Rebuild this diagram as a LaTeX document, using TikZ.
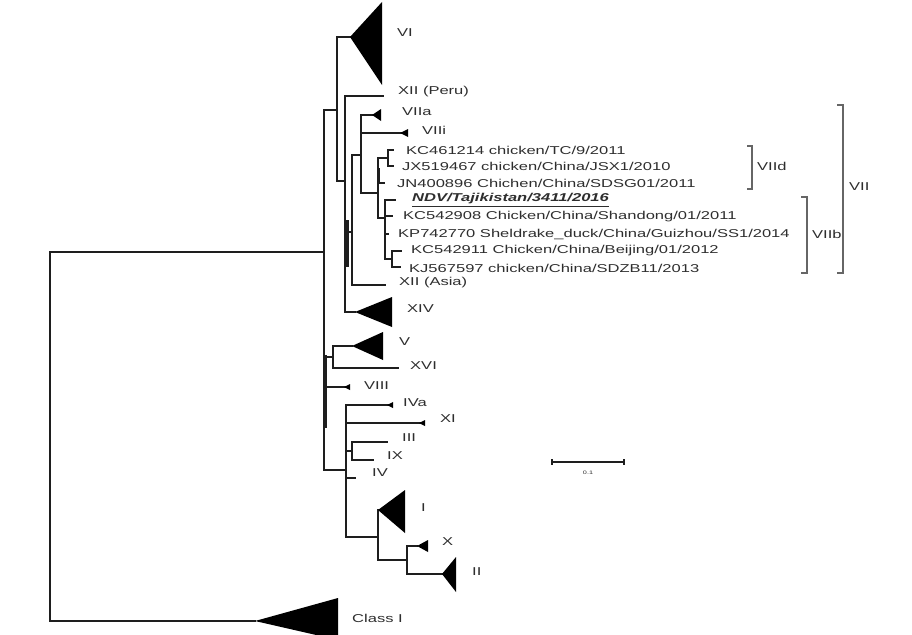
\documentclass[tikz,border=0pt]{standalone}
\usepackage{fontspec}
\newfontfamily\treefont[FakeStretch=1.45]{Liberation Sans}
\definecolor{treeline}{HTML}{1E1E1E}
\definecolor{labelgray}{HTML}{2E2E2E}
\definecolor{bracketgray}{HTML}{666666}
\newcommand{\taxfont}{\treefont\fontsize{11.4}{13}\selectfont}

\begin{document}
\begin{tikzpicture}[
    x=1pt, y=-1pt,
    branch/.style={draw=treeline, line width=1.8pt, line cap=rect},
    heavy/.style={draw=treeline, line width=3pt},
    clade/.style={fill=black},
    taxon/.style={anchor=west, inner sep=0pt, text=labelgray, font=\taxfont},
    bracket/.style={draw=bracketgray, line width=1.2pt},
  ]

  % ══════════════════════════════════════════════════════
  % Canvas
  % ══════════════════════════════════════════════════════
  \fill[white] (0,0) rectangle (912,634);
  \useasboundingbox (0,0) rectangle (912,634);

  % ══════════════════════════════════════════════════════
  % Root and Class I outgroup
  % ══════════════════════════════════════════════════════
  \draw[branch] (324,252) -- (50,252) -- (50,621) -- (255,621);
  \fill[clade] (255,621) -- (338,598) -- (338,640) -- cycle;

  % main backbone of class II
  \draw[branch] (324,110) -- (324,470);
  \draw[heavy] (325,355) -- (325,428);

  % ══════════════════════════════════════════════════════
  % Upper part: VI, XII, VII, XIV
  % ══════════════════════════════════════════════════════
  \draw[branch] (324,110) -- (337,110);
  \draw[branch] (337,37) -- (337,181) -- (345,181);
  \draw[branch] (337,37) -- (350,37);
  \fill[clade] (350,37) -- (382,2) -- (382,85) -- cycle;

  \draw[branch] (345,96) -- (345,312);
  \draw[heavy] (347,220) -- (347,267);
  \draw[branch] (345,96) -- (383,96);
  \draw[branch] (345,312) -- (355,312);
  \fill[clade] (355,312) -- (392,297) -- (392,327) -- cycle;

  \draw[branch] (345,232) -- (352,232);
  \draw[branch] (352,155) -- (352,285) -- (385,285);

  % VIIa / VIIi
  \draw[branch] (352,155) -- (361,155);
  \draw[branch] (361,115) -- (361,193) -- (378,193);
  \draw[branch] (361,115) -- (372,115);
  \fill[clade] (372,115) -- (381,109) -- (381,121) -- cycle;
  \draw[branch] (361,133) -- (401,133);
  \fill[clade] (400,133) -- (408,129) -- (408,137) -- cycle;

  % VIId
  \draw[branch] (378,158) -- (378,218);
  \draw[heavy] (378,168) -- (378,184);
  \draw[branch] (378,158) -- (388,158);
  \draw[branch] (393,150) -- (388,150) -- (388,166) -- (393,166);
  \draw[branch] (378,183) -- (384,183);

  % VIIb
  \draw[branch] (378,218) -- (385,218);
  \draw[branch] (395,200) -- (385,200) -- (385,259) -- (392,259);
  \draw[branch] (385,216) -- (392,216);
  \draw[branch] (385,234) -- (388,234);
  \draw[branch] (401,251) -- (392,251) -- (392,267) -- (400,267);

  % ══════════════════════════════════════════════════════
  % Middle part: V, XVI, VIII
  % ══════════════════════════════════════════════════════
  \draw[branch] (324,357) -- (333,357);
  \draw[branch] (352,346) -- (333,346) -- (333,368) -- (398,368);
  \fill[clade] (352,346) -- (383,332) -- (383,360) -- cycle;
  \draw[branch] (324,387) -- (346,387);
  \fill[clade] (344,387) -- (350,384) -- (350,390) -- cycle;

  % ══════════════════════════════════════════════════════
  % Lower part: IVa, XI, III, IX, IV, I, X, II
  % ══════════════════════════════════════════════════════
  \draw[branch] (324,470) -- (346,470);
  \draw[branch] (346,405) -- (346,537) -- (378,537);
  \draw[branch] (346,405) -- (389,405);
  \fill[clade] (387,405) -- (393,402) -- (393,408) -- cycle;
  \draw[branch] (346,423) -- (421,423);
  \fill[clade] (419,423) -- (425,420) -- (425,426) -- cycle;
  \draw[branch] (346,451) -- (352,451);
  \draw[branch] (387,442) -- (352,442) -- (352,460) -- (373,460);
  \draw[branch] (346,478) -- (355,478);

  \draw[branch] (378,510) -- (378,560) -- (407,560);
  \fill[clade] (378,510) -- (405,490) -- (405,533) -- cycle;
  \draw[branch] (407,546) -- (407,574);
  \draw[branch] (407,546) -- (417,546);
  \fill[clade] (417,546) -- (428,540) -- (428,552) -- cycle;
  \draw[branch] (407,574) -- (442,574);
  \fill[clade] (442,574) -- (456,557) -- (456,592) -- cycle;

  % ══════════════════════════════════════════════════════
  % Genotype labels
  % ══════════════════════════════════════════════════════
  \node[taxon] (gVI)    at (397,33)  {VI};
  \node[taxon] (gXIIp)  at (398,92)  {XII (Peru)};
  \node[taxon] (gVIIa)  at (402,112) {VIIa};
  \node[taxon] (gVIIi)  at (422,130) {VIIi};
  \node[taxon] (gXIIa)  at (399,283) {XII (Asia)};
  \node[taxon] (gXIV)   at (407,309) {XIV};
  \node[taxon] (gV)     at (399,342) {V};
  \node[taxon] (gXVI)   at (410,366) {XVI};
  \node[taxon] (gVIII)  at (364,386) {VIII};
  \node[taxon] (gIVa)   at (403,403) {IVa};
  \node[taxon] (gXI)    at (440,419) {XI};
  \node[taxon] (gIII)   at (402,438) {III};
  \node[taxon] (gIX)    at (387,456) {IX};
  \node[taxon] (gIV)    at (372,473) {IV};
  \node[taxon] (gI)     at (421,508) {I};
  \node[taxon] (gX)     at (442,542) {X};
  \node[taxon] (gII)    at (472,572) {II};
  \node[taxon] (gClass) at (352,618) {Class I};

  % ══════════════════════════════════════════════════════
  % Strain labels
  % ══════════════════════════════════════════════════════
  \node[taxon] (kc214) at (406,150) {KC461214 chicken/TC/9/2011};
  \node[taxon] (jx467) at (402,166) {JX519467 chicken/China/JSX1/2010};
  \node[taxon] (jn896) at (397,183) {JN400896 Chichen/China/SDSG01/2011};
  \node[taxon] (ndv)   at (412,200)
    {\bfseries\itshape\underline{NDV/Tajikistan/3411/2016}};
  \node[taxon] (kc908) at (403,217) {KC542908 Chicken/China/Shandong/01/2011};
  \node[taxon] (kp770) at (398,234) {KP742770 Sheldrake\_duck/China/Guizhou/SS1/2014};
  \node[taxon] (kc911) at (411,251) {KC542911 Chicken/China/Beijing/01/2012};
  \node[taxon] (kj597) at (409,268) {KJ567597 chicken/China/SDZB11/2013};

  % ══════════════════════════════════════════════════════
  % Sub-genotype brackets
  % ══════════════════════════════════════════════════════
  \draw[bracket] (747,146) -- (752,146) -- (752,189) -- (747,189);
  \node[taxon] (bVIId) at (757,166) {VIId};
  \draw[bracket] (801,197) -- (807,197) -- (807,273) -- (801,273);
  \node[taxon] (bVIIb) at (812,234) {VIIb};
  \draw[bracket] (837,105) -- (843,105) -- (843,273) -- (837,273);
  \node[taxon] (bVII) at (849,187) {VII};

  % ══════════════════════════════════════════════════════
  % Scale bar
  % ══════════════════════════════════════════════════════
  \draw[treeline, line width=1.5pt] (552,462) -- (624,462);
  \draw[treeline, line width=1.5pt] (552,459) -- (552,465);
  \draw[treeline, line width=1.5pt] (624,459) -- (624,465);
  \node[text=labelgray, font=\treefont\fontsize{5}{6}\selectfont, inner sep=0pt]
    (scale) at (588,473) {0.1};

\end{tikzpicture}
\end{document}
